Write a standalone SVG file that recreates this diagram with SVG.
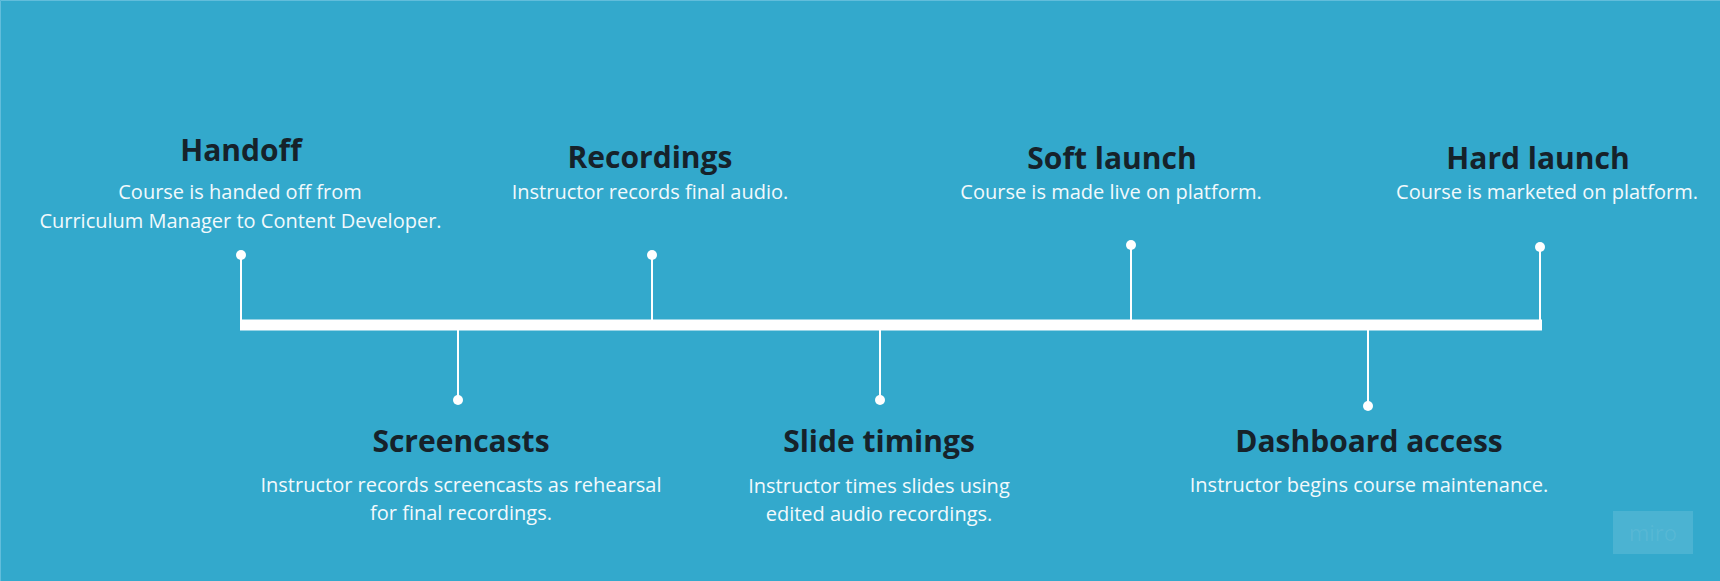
<svg xmlns="http://www.w3.org/2000/svg" width="1720" height="581" viewBox="0 0 1720 581">
<style>
.t{font-family:"Open Sans","Noto Sans","Liberation Sans",sans-serif;font-weight:700;font-size:30px;fill:#16222a;text-anchor:middle}
.d{font-family:"Open Sans","Noto Sans","Liberation Sans",sans-serif;font-size:20px;fill:#f2f9fc;text-anchor:middle}
.stem{stroke:#ffffff;stroke-width:2;fill:none}
.dot{fill:#ffffff}
</style>
<rect x="0" y="0" width="1720" height="581" fill="#33a9cc"/>
<path d="M0.5 581 V0.5 H1720" stroke="#62bddb" stroke-width="1" fill="none"/>
<g id="connectors">
<rect x="240" y="319.5" width="1302" height="11" fill="#ffffff"/>
<line class="stem" x1="241" y1="255" x2="241" y2="320"/>
<line class="stem" x1="652" y1="255" x2="652" y2="320"/>
<line class="stem" x1="1131" y1="245" x2="1131" y2="320"/>
<line class="stem" x1="1540" y1="247" x2="1540" y2="320"/>
<line class="stem" x1="458" y1="330" x2="458" y2="400"/>
<line class="stem" x1="880" y1="330" x2="880" y2="400"/>
<line class="stem" x1="1368" y1="330" x2="1368" y2="406"/>
</g>
<g id="handoff">
<circle class="dot" cx="241" cy="255" r="5"/>
<text class="t" x="241" y="161">Handoff</text>
<text class="d" x="240" y="199">Course is handed off from</text>
<text class="d" x="240.5" y="228">Curriculum Manager to Content Developer.</text>
</g>
<g id="recordings">
<circle class="dot" cx="652" cy="255" r="5"/>
<text class="t" x="650" y="168">Recordings</text>
<text class="d" x="650" y="199">Instructor records final audio.</text>
</g>
<g id="soft-launch">
<circle class="dot" cx="1131" cy="245" r="5"/>
<text class="t" x="1112" y="169">Soft launch</text>
<text class="d" x="1111" y="199">Course is made live on platform.</text>
</g>
<g id="hard-launch">
<circle class="dot" cx="1540" cy="247" r="5"/>
<text class="t" x="1538" y="169">Hard launch</text>
<text class="d" x="1547" y="199">Course is marketed on platform.</text>
</g>
<g id="screencasts">
<circle class="dot" cx="458" cy="400" r="5"/>
<text class="t" x="461" y="452">Screencasts</text>
<text class="d" x="461" y="492">Instructor records screencasts as rehearsal</text>
<text class="d" x="461" y="520">for final recordings.</text>
</g>
<g id="slide-timings">
<circle class="dot" cx="880" cy="400" r="5"/>
<text class="t" x="879" y="452">Slide timings</text>
<text class="d" x="879" y="493">Instructor times slides using</text>
<text class="d" x="879" y="521">edited audio recordings.</text>
</g>
<g id="dashboard-access">
<circle class="dot" cx="1368" cy="406" r="5"/>
<text class="t" x="1369" y="452">Dashboard access</text>
<text class="d" x="1369" y="492">Instructor begins course maintenance.</text>
</g>
<g id="watermark">
<rect x="1613" y="511" width="80" height="43" fill="#ffffff" fill-opacity="0.12"/>
<text x="1653" y="541" font-family="'Open Sans','Liberation Sans',sans-serif" font-size="22" fill="#ffffff" fill-opacity="0.07" text-anchor="middle">miro</text>
</g>
</svg>
